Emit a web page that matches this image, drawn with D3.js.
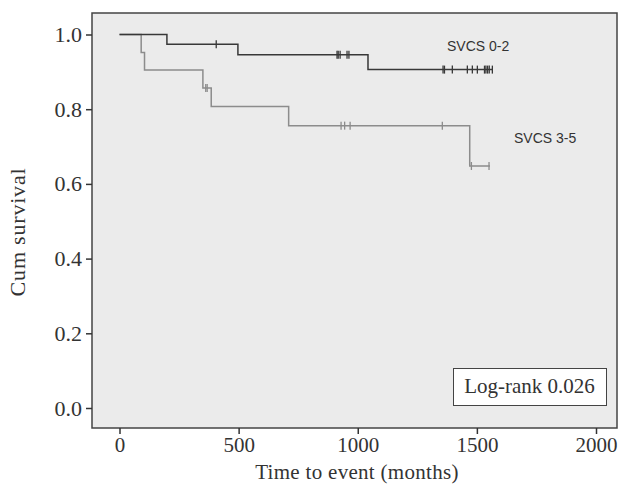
<!DOCTYPE html>
<html>
<head>
<meta charset="utf-8">
<script src="https://cdn.jsdelivr.net/npm/d3@7"></script>
<style>
  body { margin: 0; background: #fff; }
  svg text { fill: #333; }
</style>
</head>
<body>
<svg id="chart" width="620" height="484"></svg>
<script>
// SVCS 0-2 (dark line)
var g1Times = [0, 199, 497, 1043];
var g1Surv = [1.0, 0.974, 0.946, 0.906];
var g1End = 1565;
var g1Censor = [406, 913, 918, 926, 955, 963, 1358, 1364, 1397, 1460, 1481, 1502, 1532, 1538, 1545, 1552, 1565];

// SVCS 3-5 (light line)
var g2Times = [0, 91, 105, 350, 385, 710, 1470];
var g2Surv = [1.0, 0.952, 0.905, 0.857, 0.807, 0.756, 0.648];
var g2End = 1555;
var g2Censor = [362, 368, 930, 945, 968, 1355, 1477, 1551];

var xTicks = [0, 500, 1000, 1500, 2000];
var yTicks = [0.0, 0.2, 0.4, 0.6, 0.8, 1.0];

var svg = d3.select('#chart');

var frame = {left: 92, top: 13, right: 617, bottom: 428};
var x = d3.scaleLinear().domain([0, 2000]).range([119.5, 596]);
var y = d3.scaleLinear().domain([0, 1]).range([408, 34.5]);

var serif = 'Liberation Serif, serif';

svg.append('rect')
  .attr('x', frame.left).attr('y', frame.top)
  .attr('width', frame.right - frame.left)
  .attr('height', frame.bottom - frame.top)
  .attr('fill', '#ebebeb')
  .attr('stroke', '#444')
  .attr('stroke-width', 1.5);

// axes
var yAxis = d3.axisLeft(y).tickValues(yTicks).tickFormat(d3.format('.1f')).tickSize(6).tickPadding(4);
var yg = svg.append('g').attr('transform', 'translate(' + frame.left + ',0)').call(yAxis);
yg.select('.domain').remove();

var xAxis = d3.axisBottom(x).tickValues(xTicks).tickFormat(d3.format('d')).tickSize(6).tickPadding(3);
var xg = svg.append('g').attr('transform', 'translate(0,' + frame.bottom + ')').call(xAxis);
xg.select('.domain').remove();

svg.selectAll('.tick line').attr('stroke', '#333').attr('stroke-width', 1.5);
yg.selectAll('g.tick text')
  .style('font-family', serif)
  .style('font-size', '22px')
  .style('fill', '#333');
xg.selectAll('g.tick text')
  .style('font-family', serif)
  .style('font-size', '21px')
  .style('fill', '#333');

svg.append('text')
  .attr('transform', 'translate(25,232) rotate(-90)')
  .attr('text-anchor', 'middle')
  .style('font-family', serif)
  .style('font-size', '22px')
  .style('letter-spacing', '0.8px')
  .text('Cum survival');

svg.append('text')
  .attr('x', 357).attr('y', 479)
  .attr('text-anchor', 'middle')
  .style('font-family', serif)
  .style('font-size', '21px')
  .style('letter-spacing', '0.3px')
  .text('Time to event (months)');

// survival curves
var line = d3.line()
  .x(d => x(d[0]))
  .y(d => y(d[1]))
  .curve(d3.curveStepAfter);

function stepAt(times, surv, t) {
  var s = surv[0];
  for (var i = 0; i < times.length; i++) {
    if (times[i] <= t) s = surv[i];
  }
  return s;
}

function drawGroup(times, surv, end, censor, color) {
  var pts = times.map((t, i) => [t, surv[i]]);
  pts.push([end, surv[surv.length - 1]]);
  svg.append('path')
    .attr('d', line(pts))
    .attr('fill', 'none')
    .attr('stroke', color)
    .attr('stroke-width', 1.5);
  svg.append('g').selectAll('line')
    .data(censor)
    .join('line')
    .attr('x1', d => x(d)).attr('x2', d => x(d))
    .attr('y1', d => y(stepAt(times, surv, d)) - 4)
    .attr('y2', d => y(stepAt(times, surv, d)) + 4)
    .attr('stroke', color)
    .attr('stroke-width', 1.3);
}

drawGroup(g2Times, g2Surv, g2End, g2Censor, '#8c8c8c');
drawGroup(g1Times, g1Surv, g1End, g1Censor, '#383838');

svg.append('text')
  .attr('x', 447).attr('y', 51)
  .style('font-family', 'Liberation Sans, Arial, sans-serif')
  .style('font-size', '14px')
  .text('SVCS 0-2');

svg.append('text')
  .attr('x', 514).attr('y', 143)
  .style('font-family', 'Liberation Sans, Arial, sans-serif')
  .style('font-size', '14px')
  .text('SVCS 3-5');

// log-rank box
svg.append('rect')
  .attr('x', 453.5).attr('y', 368.5)
  .attr('width', 153).attr('height', 37)
  .attr('fill', '#fff')
  .attr('stroke', '#444')
  .attr('stroke-width', 1);

svg.append('text')
  .attr('x', 529.5).attr('y', 393)
  .attr('text-anchor', 'middle')
  .style('font-family', serif)
  .style('font-size', '21px')
  .text('Log-rank 0.026');
</script>
</body>
</html>
